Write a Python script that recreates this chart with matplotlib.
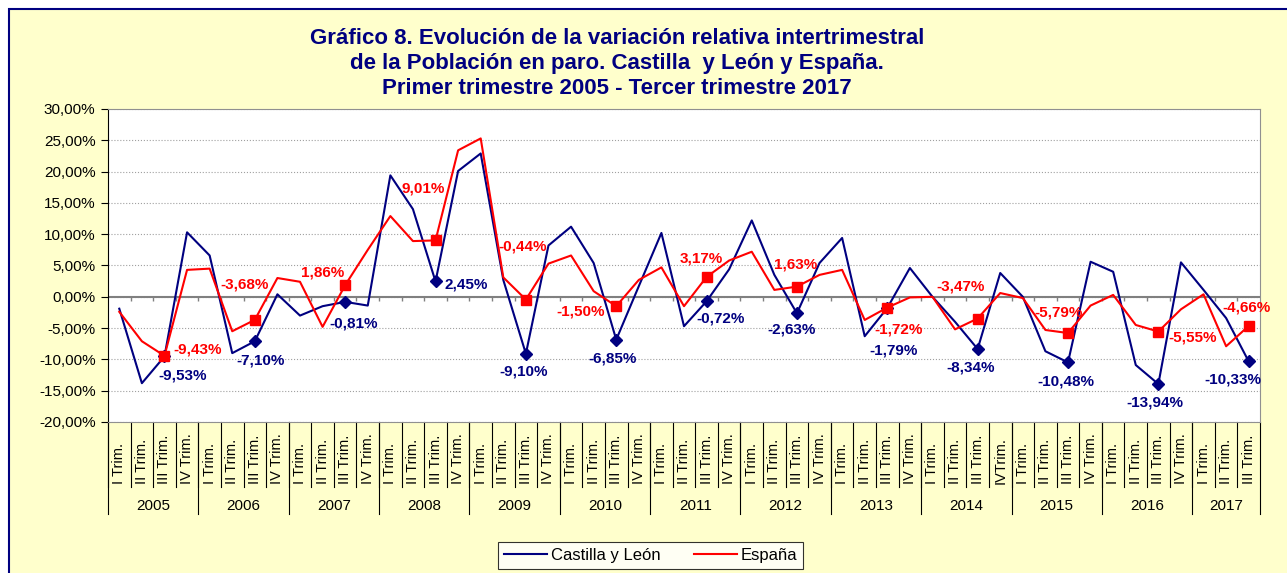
import matplotlib.pyplot as plt
import numpy as np
from matplotlib.lines import Line2D
from matplotlib.patches import Rectangle

plt.rcParams['font.family'] = ['Liberation Sans', 'DejaVu Sans']

# --- data (percent, quarter over quarter) ---
years = ['2005', '2006', '2007', '2008', '2009', '2010', '2011',
         '2012', '2013', '2014', '2015', '2016', '2017']
quarter_names = ['I Trim.', 'II Trim.', 'III Trim.', 'IV Trim.']

castilla_leon = [-1.9, -13.8, -9.53, 10.3, 6.6, -9.0, -7.10, 0.4, -3.0, -1.5,
                 -0.81, -1.4, 19.4, 14.0, 2.45, 20.1, 22.9, 2.7, -9.10, 8.2,
                 11.2, 5.4, -6.85, 1.7, 10.2, -4.7, -0.72, 4.4, 12.2, 3.5,
                 -2.63, 5.4, 9.4, -6.3, -1.79, 4.6, 0.0, -4.0, -8.34, 3.8,
                 0.0, -8.7, -10.48, 5.6, 4.0, -10.9, -13.94, 5.5, 1.1, -3.4,
                 -10.33]
espana = [-2.4, -7.1, -9.43, 4.3, 4.5, -5.5, -3.68, 3.0, 2.4, -4.8,
          1.86, 7.5, 12.9, 8.9, 9.01, 23.4, 25.3, 3.1, -0.44, 5.3,
          6.6, 0.9, -1.50, 2.7, 4.7, -1.5, 3.17, 5.8, 7.2, 1.1,
          1.63, 3.5, 4.3, -3.7, -1.72, -0.1, 0.0, -5.2, -3.47, 0.6,
          -0.2, -5.3, -5.79, -1.4, 0.3, -4.5, -5.55, -2.0, 0.4, -7.9,
          -4.66]

# quarter tick labels (2017 only has three quarters)
quarter_labels = [q for y in years[:-1] for q in quarter_names] + quarter_names[:3]
quarter_labels[39] = 'IVTrim.'  # as written in the source

# label offsets (pixels) for the III Trim. data labels
cyl_offsets = [(18, -19), (6, -19), (8, -22), (31, -3), (-2, -18), (-4, -19),
               (14, -17), (-5, -16), (6, -42), (-7, -18), (-2, -19), (-3, -18),
               (-16, -18)]
esp_offsets = [(33, 6), (-10, 35), (-23, 13), (-12, 52), (-3, 53), (-36, -5),
               (-5, 18), (-1, 22), (11, -22), (-17, 32), (-9, 21), (34, -6),
               (-2, 18)]

NAVY = '#000080'
RED = '#FF0000'
BG = '#FFFFCC'

W, H = 1287, 573
fig = plt.figure(figsize=(W / 100, H / 100), dpi=100)
fig.patch.set_facecolor('white')
fig.patches.append(Rectangle((9 / W, -0.1), 1.2, 1 - 9 / H + 0.1, transform=fig.transFigure,
                             facecolor=BG, edgecolor=NAVY, linewidth=1.5, zorder=-10))

left, right, top, bottom = 108, 1260, 109, 422
ax = fig.add_axes([left / W, 1 - bottom / H, (right - left) / W, (bottom - top) / H])
ax.set_facecolor('white')

x = np.arange(len(castilla_leon))
ax.plot(x, castilla_leon, color=NAVY, lw=1.5, label='Castilla y León', zorder=3)
ax.plot(x, espana, color=RED, lw=1.5, label='España', zorder=3)

# markers and labels on every third quarter
marked = x[2::4]
cyl_m = np.array(castilla_leon)[marked]
esp_m = np.array(espana)[marked]
ax.plot(marked, cyl_m, 'D', color=NAVY, ms=6.5, zorder=4)
ax.plot(marked, esp_m, 's', color=RED, ms=7, zorder=4)


def fmt(v):
    return f'{v:.2f}%'.replace('.', ',')


for k, xi in enumerate(marked):
    ax.annotate(fmt(cyl_m[k]), (xi, cyl_m[k]), xytext=cyl_offsets[k], textcoords='offset pixels',
                ha='center', va='center', color=NAVY, fontsize=11, fontweight='bold', zorder=5)
    ax.annotate(fmt(esp_m[k]), (xi, esp_m[k]), xytext=esp_offsets[k], textcoords='offset pixels',
                ha='center', va='center', color=RED, fontsize=11, fontweight='bold', zorder=5)

# axes styling
ax.set_xlim(-0.5, len(x) - 0.5)
ax.set_ylim(-20, 30)
yt = np.arange(-20, 31, 5)
ax.set_yticks(yt)
ax.set_yticklabels([fmt(v) for v in yt], fontsize=11)
ax.tick_params(axis='y', direction='out', length=5, color='black', pad=4)
ax.set_xticks([])
ax.yaxis.grid(True, color='#A0A0A0', linestyle=':', linewidth=0.8)
ax.set_axisbelow(True)
for side in ['top', 'right', 'bottom']:
    ax.spines[side].set_color('#909090')
ax.spines['left'].set_color('black')

# zero line with category ticks
ax.axhline(0, color='#808080', lw=1.5, zorder=2)
ax.vlines(x[:-1] + 0.5, -0.65, 0, color='#808080', lw=1, zorder=2)

# category table below the plot
tr = ax.get_xaxis_transform()
q_bottom, y_bottom = -0.208, -0.294
for i, lab in enumerate(quarter_labels):
    ax.text(i, -0.198, lab, transform=tr, rotation=90, ha='center', va='bottom', fontsize=10.5)
for b in x + 0.5:
    ax.plot([b - 1, b - 1], [0, q_bottom], transform=tr, color='black', lw=0.8, clip_on=False)
year_edges = list(range(0, len(x), 4)) + [len(x)]
for k, yr in enumerate(years):
    s, e = year_edges[k], year_edges[k + 1]
    ax.text((s + e - 1) / 2, -0.268, yr, transform=tr, ha='center', va='center', fontsize=11)
for e in year_edges:
    ax.plot([e - 0.5, e - 0.5], [0, y_bottom], transform=tr, color='black', lw=0.8, clip_on=False)

# title
title_lines = ['Gráfico 8. Evolución de la variación relativa intertrimestral',
               'de la Población en paro. Castilla  y León y España.',
               'Primer trimestre 2005 - Tercer trimestre 2017']
for line, yc in zip(title_lines, [38, 63, 88]):
    fig.text(617 / W, 1 - yc / H, line, ha='center', va='center', fontsize=16,
             fontweight='bold', color=NAVY)

# legend
handles = [Line2D([], [], color=NAVY, lw=1.5), Line2D([], [], color=RED, lw=1.5)]
leg = fig.legend(handles, ['Castilla y León', 'España'], loc='center',
                 bbox_to_anchor=((495 + 806) / 2 / W, 1 - 555.5 / H), ncol=2,
                 fontsize=12, frameon=True, fancybox=False, handlelength=2.6,
                 columnspacing=2.0, borderpad=0.35, handletextpad=0.2, borderaxespad=0)
leg.get_frame().set_edgecolor('black')
leg.get_frame().set_facecolor('white')
leg.get_frame().set_linewidth(0.8)

fig.savefig('out.png', dpi=100, facecolor=fig.get_facecolor())
